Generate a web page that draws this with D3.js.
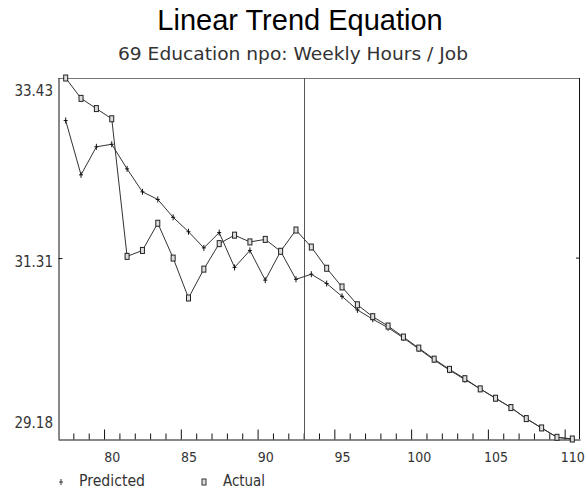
<!DOCTYPE html>
<html>
<head>
<meta charset="utf-8">
<script src="https://cdn.jsdelivr.net/npm/d3@7"></script>
<style>
  html, body { margin: 0; padding: 0; background: #fff; }
  svg { display: block; }
  .lbl { font-family: "DejaVu Sans Condensed", "DejaVu Sans", sans-serif; fill: #333; }
</style>
</head>
<body>
<svg id="chart" width="586" height="493"></svg>
<script>
// Periods and series: Weekly Hours / Job, Education npo
const periods = [77, 78, 79, 80, 81, 82, 83, 84, 85, 86, 87, 88, 89, 90, 91, 92, 93,
                 94, 95, 96, 97, 98, 99, 100, 101, 102, 103, 104, 105, 106, 107, 108, 109, 110];
const actual = [33.43, 33.19, 33.07, 32.95, 31.33, 31.40, 31.72, 31.31, 30.84, 31.18, 31.48, 31.58,
                31.50, 31.53, 31.39, 31.64, 31.44, 31.19, 30.97, 30.76, 30.62, 30.51, 30.38, 30.25,
                30.12, 30.00, 29.89, 29.77, 29.66, 29.55, 29.42, 29.31, 29.20, 29.18];
const predicted = [32.93, 32.29, 32.62, 32.65, 32.36, 32.09, 32.00, 31.79, 31.62, 31.43, 31.61, 31.20,
                   31.40, 31.05, 31.39, 31.06, 31.12, 31.01, 30.86, 30.70, 30.59, 30.49, 30.37, 30.24,
                   30.11, 29.99, 29.88, 29.77, 29.66, 29.55, 29.42, 29.31, 29.20, 29.18];
const xLabels = [80, 85, 90, 95, 100, 105, 110];
const yTicks = [29.18, 31.31, 33.43];
const forecastStart = 92.5;

const svg = d3.select("#chart");
const plotLeft = 58, plotRight = 580, plotTop = 78, plotBottom = 439;

const x = d3.scaleLinear().domain([76.5, 110.5]).range([plotLeft, plotRight]);
const y = d3.scaleLinear().domain([29.18, 33.43]).range([plotBottom, plotTop]);

// Titles
svg.append("text")
  .attr("x", 300).attr("y", 30)
  .attr("text-anchor", "middle")
  .style("font-family", "'Liberation Sans', Arial, sans-serif")
  .style("font-size", "29px").style("fill", "#000")
  .text("Linear Trend Equation");

svg.append("text").attr("class", "lbl")
  .attr("x", 118).attr("y", 60)
  .attr("textLength", 350).attr("lengthAdjust", "spacingAndGlyphs")
  .style("font-size", "17px")
  .text("69 Education npo: Weekly Hours / Job");

// Frame
svg.append("line").attr("x1", plotLeft).attr("x2", plotRight).attr("y1", plotTop + 0.5).attr("y2", plotTop + 0.5)
  .attr("stroke", "#777").attr("stroke-width", 1);
svg.append("line").attr("x1", plotRight - 0.5).attr("x2", plotRight - 0.5).attr("y1", plotTop).attr("y2", plotBottom)
  .attr("stroke", "#111").attr("stroke-width", 1);

// Bottom axis: ticks at period boundaries (long every fifth), labels centred on periods
const boundaries = periods.slice(1).map(p => p - 0.5);
const tickAxis = d3.axisTop(x).tickValues(boundaries)
  .tickSize(6).tickSizeOuter(0).tickFormat("");
const gx = svg.append("g").attr("transform", `translate(0,${plotBottom + 0.5})`).call(tickAxis);
gx.select(".domain").attr("stroke", "#111");
gx.selectAll(".tick line")
  .attr("stroke", "#111")
  .attr("y2", d => ((d + 0.5) % 5 === 0 ? -10 : -6));
gx.selectAll(".tick text").remove();

const labelAxis = d3.axisBottom(x).tickValues(xLabels).tickSize(0).tickPadding(0).tickFormat(d3.format("d"));
const gxl = svg.append("g").attr("transform", `translate(0,${plotBottom})`).call(labelAxis);
gxl.select(".domain").remove();
gxl.selectAll(".tick text")
  .attr("class", "lbl")
  .attr("y", 23).attr("dy", 0)
  .style("font-size", "14px")
  .style("fill", "#333");

// Left axis
const yAxis = d3.axisRight(y).tickValues([31.31]).tickSize(4).tickSizeOuter(0).tickFormat("");
const gy = svg.append("g").attr("transform", `translate(${plotLeft + 0.5},0)`).call(yAxis);
gy.select(".domain").attr("stroke", "#111");
gy.selectAll(".tick line").attr("stroke", "#111");
gy.selectAll(".tick text").remove();

// Right tick
svg.append("line")
  .attr("x1", plotRight - 4).attr("x2", plotRight).attr("y1", y(31.31)).attr("y2", y(31.31))
  .attr("stroke", "#111");

const yOffsets = { 29.18: -11, 31.31: 9, 33.43: 18 };
svg.append("g").selectAll("text").data(yTicks).join("text")
  .attr("class", "lbl")
  .attr("x", 53).attr("y", d => y(d) + yOffsets[d])
  .attr("text-anchor", "end")
  .style("font-size", "15px")
  .text(d => d.toFixed(2));

// Start of forecast period
svg.append("line")
  .attr("x1", Math.round(x(forecastStart)) + 0.5).attr("x2", Math.round(x(forecastStart)) + 0.5)
  .attr("y1", plotTop).attr("y2", plotBottom)
  .attr("stroke", "#555").attr("stroke-width", 1);

// Series lines
const line = d3.line().x((d, i) => x(periods[i])).y(d => y(d));
svg.append("path").datum(actual).attr("d", line)
  .attr("fill", "none").attr("stroke", "#333").attr("stroke-width", 1);
svg.append("path").datum(predicted).attr("d", line)
  .attr("fill", "none").attr("stroke", "#333").attr("stroke-width", 1);

// Markers
const plusPath = (cx, cy) => `M${cx - 2},${cy}H${cx + 2}M${cx},${cy - 3}V${cy + 3}`;
svg.append("g").selectAll("path").data(predicted).join("path")
  .attr("d", (d, i) => plusPath(x(periods[i]), y(d)))
  .attr("stroke", "#111").attr("stroke-width", 1).attr("fill", "none");

svg.append("g").selectAll("rect").data(actual).join("rect")
  .attr("x", (d, i) => x(periods[i]) - 2).attr("y", d => y(d) - 3)
  .attr("width", 4).attr("height", 6)
  .attr("fill", "#ddd").attr("stroke", "#222").attr("stroke-width", 1);

// Legend
const legend = svg.append("g");
legend.append("path").attr("d", plusPath(61, 482)).attr("stroke", "#333").attr("fill", "none");
legend.append("text").attr("class", "lbl").attr("x", 79).attr("y", 486)
  .attr("textLength", 66).attr("lengthAdjust", "spacingAndGlyphs")
  .style("font-size", "15px").text("Predicted");
legend.append("rect").attr("x", 202).attr("y", 479).attr("width", 4).attr("height", 6)
  .attr("fill", "#ddd").attr("stroke", "#333");
legend.append("text").attr("class", "lbl").attr("x", 223).attr("y", 486)
  .attr("textLength", 42).attr("lengthAdjust", "spacingAndGlyphs")
  .style("font-size", "15px").text("Actual");
</script>
</body>
</html>
